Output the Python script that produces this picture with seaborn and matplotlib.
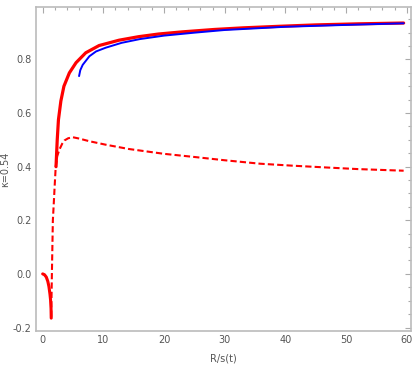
import numpy as np
import pandas as pd
import matplotlib
matplotlib.use("Agg")
import matplotlib.pyplot as plt
import seaborn as sns
from matplotlib.ticker import MultipleLocator

# red solid, upper branch
red_x = [2.2, 2.4, 2.6, 3.0, 3.5, 4.4, 5.5, 7.1, 9.3, 12.6, 15.8, 19.1, 23, 28.3, 33, 39.2, 45, 52, 59.5]
red_y = [0.40, 0.50, 0.575, 0.645, 0.70, 0.75, 0.788, 0.825, 0.852, 0.872, 0.885, 0.895,
         0.903, 0.912, 0.918, 0.924, 0.929, 0.933, 0.936]

# red solid, lower branch
low_x = [0, 0.3, 0.6, 0.85, 1.03, 1.2, 1.3, 1.38, 1.41]
low_y = [0, -0.003, -0.012, -0.028, -0.047, -0.075, -0.097, -0.13, -0.165]

# blue solid
blue_x = [6.0, 6.2, 6.6, 7.7, 8.8, 10.4, 13, 16, 20, 25, 30, 40, 50, 59.5]
blue_y = [0.738, 0.760, 0.780, 0.812, 0.830, 0.844, 0.862, 0.876, 0.889, 0.900, 0.910, 0.922, 0.929, 0.935]

# red dashed
dash_x = [1.41, 1.52, 1.68, 1.8, 1.96, 2.15, 2.4, 2.77, 3.2, 3.6, 4.2, 4.95, 6, 7.7, 10.4,
          14.2, 20, 25.1, 30, 35.9, 41, 46.8, 52, 59.5]
dash_y = [-0.16, 0.0, 0.2, 0.25, 0.32, 0.40, 0.44, 0.464, 0.485, 0.498, 0.506, 0.510, 0.505,
          0.495, 0.482, 0.466, 0.448, 0.436, 0.424, 0.411, 0.404, 0.397, 0.391, 0.385]

sns.set_style("white")
plt.rcParams['font.family'] = ['DejaVu Sans']

fig = plt.figure(figsize=(4.15, 3.74), dpi=100)
ax = fig.add_axes([0.086, 0.115, 0.9036, 0.865])

df_low = pd.DataFrame({'x': low_x, 'y': low_y})
df_red = pd.DataFrame({'x': red_x, 'y': red_y})
df_blue = pd.DataFrame({'x': blue_x, 'y': blue_y})
df_dash = pd.DataFrame({'x': dash_x, 'y': dash_y})

sns.lineplot(data=df_dash, x='x', y='y', ax=ax, color='#ff0000', lw=1.5, sort=False,
             linestyle=(0, (3, 1.5)))
sns.lineplot(data=df_low, x='x', y='y', ax=ax, color='#ff0000', lw=2.2, sort=False)
sns.lineplot(data=df_red, x='x', y='y', ax=ax, color='#ff0000', lw=2.3, sort=False)
sns.lineplot(data=df_blue, x='x', y='y', ax=ax, color='#0000ff', lw=1.4, sort=False)

ax.set_xlim(-1.15, 60.66)
ax.set_ylim(-0.213, 0.994)
ax.xaxis.set_major_locator(MultipleLocator(10))
ax.xaxis.set_minor_locator(MultipleLocator(2))
ax.yaxis.set_major_locator(MultipleLocator(0.2))
ax.yaxis.set_minor_locator(MultipleLocator(0.05))
ax.set_xticks([0, 10, 20, 30, 40, 50, 60])
ax.set_yticks([-0.2, 0.0, 0.2, 0.4, 0.6, 0.8])
ax.set_yticklabels(['-0.2', '0.0', '0.2', '0.4', '0.6', '0.8'])

ax.tick_params(which='both', direction='in', top=True, right=True, color='#aaaaaa',
               labelsize=7, labelcolor='#555555', width=0.8)
ax.tick_params(which='major', length=4, pad=3)
ax.tick_params(which='minor', length=2)
for s in ax.spines.values():
    s.set_color('#bbbbbb')
    s.set_linewidth(1.2)

ax.set_xlabel('R/s(t)', fontsize=7, color='#555555', labelpad=6)
ax.set_ylabel('κ=0.54', fontsize=7, color='#555555', labelpad=2)

fig.savefig('out.png', dpi=100)
